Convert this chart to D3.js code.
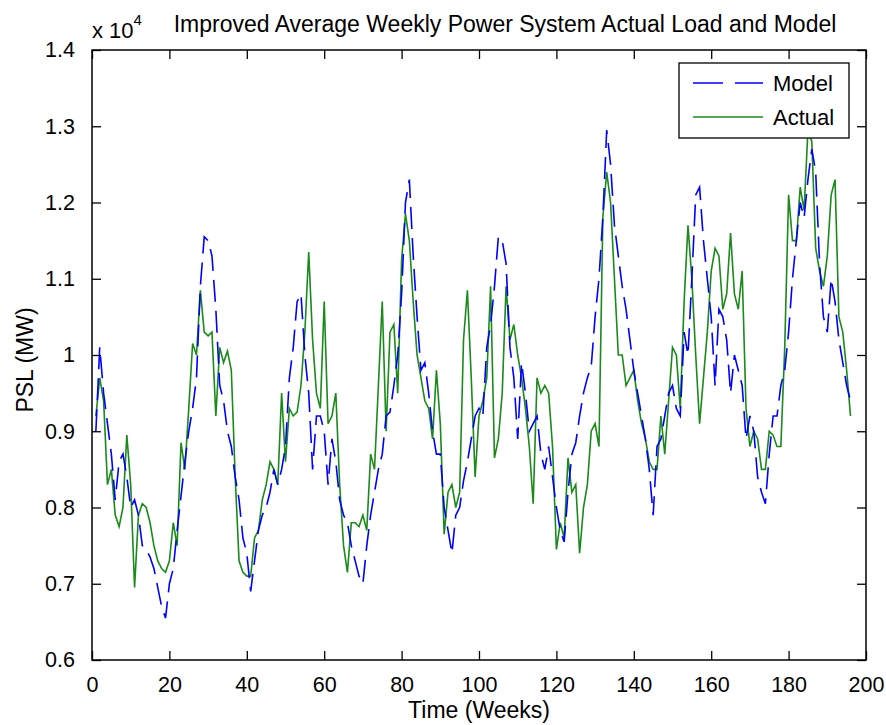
<!DOCTYPE html>
<html>
<head>
<meta charset="utf-8">
<script src="https://d3js.org/d3.v7.min.js"></script>
<style>
	body { margin: 0; background: #fff; }
	text { font-family: "Liberation Sans", Arial, sans-serif; fill: #000; }
</style>
</head>
<body>
<script>
// weekly load, MW (weeks 1..196)
const actual = [
	9200, 9700, 9400, 8300, 8500, 7900, 7750, 8000, 8950, 8300,
	6950, 7900, 8050, 8000, 7800, 7500, 7300, 7200, 7150, 7300,
	7800, 7500, 8850, 8500, 9300, 10150, 10000, 10850, 10300, 10250,
	10300, 9200, 10100, 9900, 10050, 9800, 8400, 7300, 7150, 7100,
	7100, 7600, 7700, 8100, 8300, 8600, 8500, 8300, 9500, 8600,
	9300, 9200, 9250, 9600, 10300, 11350, 10200, 9500, 9300, 10700,
	9100, 9200, 9500, 8300, 7500, 7150, 7800, 7800, 7750, 7900,
	7700, 8700, 8500, 9600, 10700, 9000, 10300, 10400, 9500, 11250,
	11850, 11500, 10700, 10000, 9700, 9400, 9300, 8900, 9800, 9100,
	7650, 8200, 8300, 8000, 8200, 10200, 10850, 9700, 8400, 9200,
	9400, 9700, 10900, 8650, 8900, 9500, 10900, 10200, 10400, 10000,
	9700, 9300, 8800, 8050, 9700, 9500, 9600, 9500, 8800, 7450,
	7800, 7600, 8650, 8200, 8300, 7400, 8000, 8300, 9000, 9100,
	8800, 11800, 12400, 12000, 11000, 10000, 10000, 9600, 9700, 9800,
	9400, 9100, 8900, 8600, 8500, 8500, 9200, 8700, 9400, 10100,
	10000, 9300, 10700, 11700, 11000, 10000, 9100, 9700, 10300, 11100,
	11400, 11300, 10600, 10800, 11600, 10800, 10600, 11100, 9300, 8800,
	9000, 8900, 8500, 8500, 9000, 8950, 8800, 8800, 10100, 12100,
	11500, 11500, 12200, 11900, 12950, 12800, 11400, 11100, 10900, 11300,
	12100, 12300, 10500, 10300, 9800, 9200
];

const model = [
	9000, 10100, 9500, 9100, 8700, 8100, 8600, 8700, 8400, 8000,
	8100, 7900, 7500, 7450, 7350, 7200, 6950, 6700, 6550, 7000,
	7200, 7700, 8150, 8600, 9000, 9300, 9700, 10900, 11550, 11500,
	11300, 10600, 9600, 9400, 9000, 8800, 8400, 8100, 7600, 7400,
	6900, 7300, 7700, 7900, 8000, 8200, 8500, 8300, 8500, 8800,
	9700, 10100, 10700, 10800, 10000, 9500, 8500, 9200, 9200, 9000,
	8300, 8900, 8600, 8100, 7900, 7800, 7500, 7300, 7100, 7000,
	7500, 7900, 8200, 8500, 8700, 9200, 9250, 9600, 10000, 10800,
	12000, 12300, 11300, 10500, 9800, 9900, 9500, 9000, 8700, 8700,
	8000, 7700, 7400, 7900, 8000, 8350, 8600, 8900, 9200, 9300,
	9200, 10100, 10400, 10900, 11550, 11500, 11200, 10100, 9700, 8900,
	9900, 9500, 9000, 9100, 9200, 8700, 8500, 8800, 8400, 8000,
	7700, 7550, 8200, 8700, 8850, 9200, 9500, 9700, 9850, 10500,
	11000, 11800, 12950, 12500, 11700, 11300, 10900, 10600, 10200, 9800,
	9500, 9200, 8900, 8500, 7900, 8800, 8900, 9200, 9500, 9600,
	9300, 9200, 10300, 10000, 11000, 12100, 12200, 11500, 11000, 10500,
	9600, 10600, 10500, 10200, 9500, 10000, 9800, 9600, 8900, 9200,
	9000, 8400, 8200, 8050, 8700, 9200, 9200, 9600, 9800, 10300,
	11000, 11500, 12000, 11800, 12300, 12700, 12400, 11200, 10500, 10300,
	11000, 10700, 10200, 9900, 9600, 9400
];

const weeks = d3.range(1, actual.length + 1);
const xTicks = [0, 20, 40, 60, 80, 100, 120, 140, 160, 180, 200];
const yTicks = [6000, 7000, 8000, 9000, 10000, 11000, 12000, 13000, 14000];

const width = 886, height = 725;
const margin = { top: 50, right: 20, bottom: 65, left: 92 };
const plotW = width - margin.left - margin.right;
const plotH = height - margin.top - margin.bottom;

const svg = d3.select('body').append('svg')
	.attr('width', width)
	.attr('height', height);

const x = d3.scaleLinear().domain([0, 200]).range([0, plotW]);
const y = d3.scaleLinear().domain([6000, 14000]).range([plotH, 0]);

const g = svg.append('g').attr('transform', `translate(${margin.left},${margin.top})`);

// series
const line = d3.line().x((d, i) => x(weeks[i])).y(d => y(d));

g.append('path')
	.datum(actual)
	.attr('d', line)
	.attr('fill', 'none')
	.attr('stroke', '#1a8a1a')
	.attr('stroke-width', 1.6);

g.append('path')
	.datum(model)
	.attr('d', line)
	.attr('fill', 'none')
	.attr('stroke', '#0000ff')
	.attr('stroke-width', 1.6)
	.attr('stroke-dasharray', '22,9');

// axes, ticks inward on all four sides
const tickLen = 9;
const fmtY = d => String(+(d / 10000).toFixed(1));

g.append('g')
	.attr('transform', `translate(0,${plotH})`)
	.call(d3.axisBottom(x).tickValues(xTicks).tickSizeInner(-tickLen).tickSizeOuter(0).tickPadding(tickLen + 8));
g.append('g')
	.call(d3.axisTop(x).tickValues(xTicks).tickSizeInner(-tickLen).tickSizeOuter(0).tickFormat(''));
g.append('g')
	.call(d3.axisLeft(y).tickValues(yTicks).tickSizeInner(-tickLen).tickSizeOuter(0).tickPadding(tickLen + 8).tickFormat(fmtY));
g.append('g')
	.attr('transform', `translate(${plotW},0)`)
	.call(d3.axisRight(y).tickValues(yTicks).tickSizeInner(-tickLen).tickSizeOuter(0).tickFormat(''));

g.selectAll('.domain').remove();
g.selectAll('.tick line').attr('stroke', '#000').attr('stroke-width', 1.3);
g.selectAll('.tick text')
	.style('font-family', '"Liberation Sans", Arial, sans-serif')
	.style('font-size', '21.5px')
	.attr('fill', '#000');

g.append('rect')
	.attr('width', plotW)
	.attr('height', plotH)
	.attr('fill', 'none')
	.attr('stroke', '#000')
	.attr('stroke-width', 1.5);

// exponent label
const ex = svg.append('text')
	.attr('x', margin.left)
	.attr('y', 38)
	.style('font-size', '22px');
ex.append('tspan').text('x 10');
ex.append('tspan').attr('dy', -13).style('font-size', '15px').text('4');

// title
svg.append('text')
	.attr('x', 505)
	.attr('y', 32)
	.attr('text-anchor', 'middle')
	.style('font-size', '23px')
	.text('Improved Average Weekly Power System Actual Load and Model');

// axis labels
svg.append('text')
	.attr('x', margin.left + plotW / 2)
	.attr('y', 718)
	.attr('text-anchor', 'middle')
	.style('font-size', '23px')
	.text('Time (Weeks)');

svg.append('text')
	.attr('transform', `translate(33,360) rotate(-90)`)
	.attr('text-anchor', 'middle')
	.style('font-size', '23px')
	.text('PSL (MW)');

// legend
const legendItems = [
	{ name: 'Model', color: '#0000ff', dash: '30,12' },
	{ name: 'Actual', color: '#1a8a1a', dash: null }
];
const lg = svg.append('g').attr('transform', 'translate(679,63)');
lg.append('rect')
	.attr('width', 170)
	.attr('height', 75)
	.attr('fill', '#fff')
	.attr('stroke', '#000')
	.attr('stroke-width', 1.3);
const li = lg.selectAll('g.item')
	.data(legendItems)
	.join('g')
	.attr('class', 'item')
	.attr('transform', (d, i) => `translate(0,${20 + i * 34})`);
li.append('line')
	.attr('x1', 14).attr('x2', 84)
	.attr('stroke', d => d.color)
	.attr('stroke-width', 1.6)
	.attr('stroke-dasharray', d => d.dash);
li.append('text')
	.attr('x', 94)
	.attr('y', 8)
	.style('font-size', '22px')
	.text(d => d.name);
</script>
</body>
</html>
